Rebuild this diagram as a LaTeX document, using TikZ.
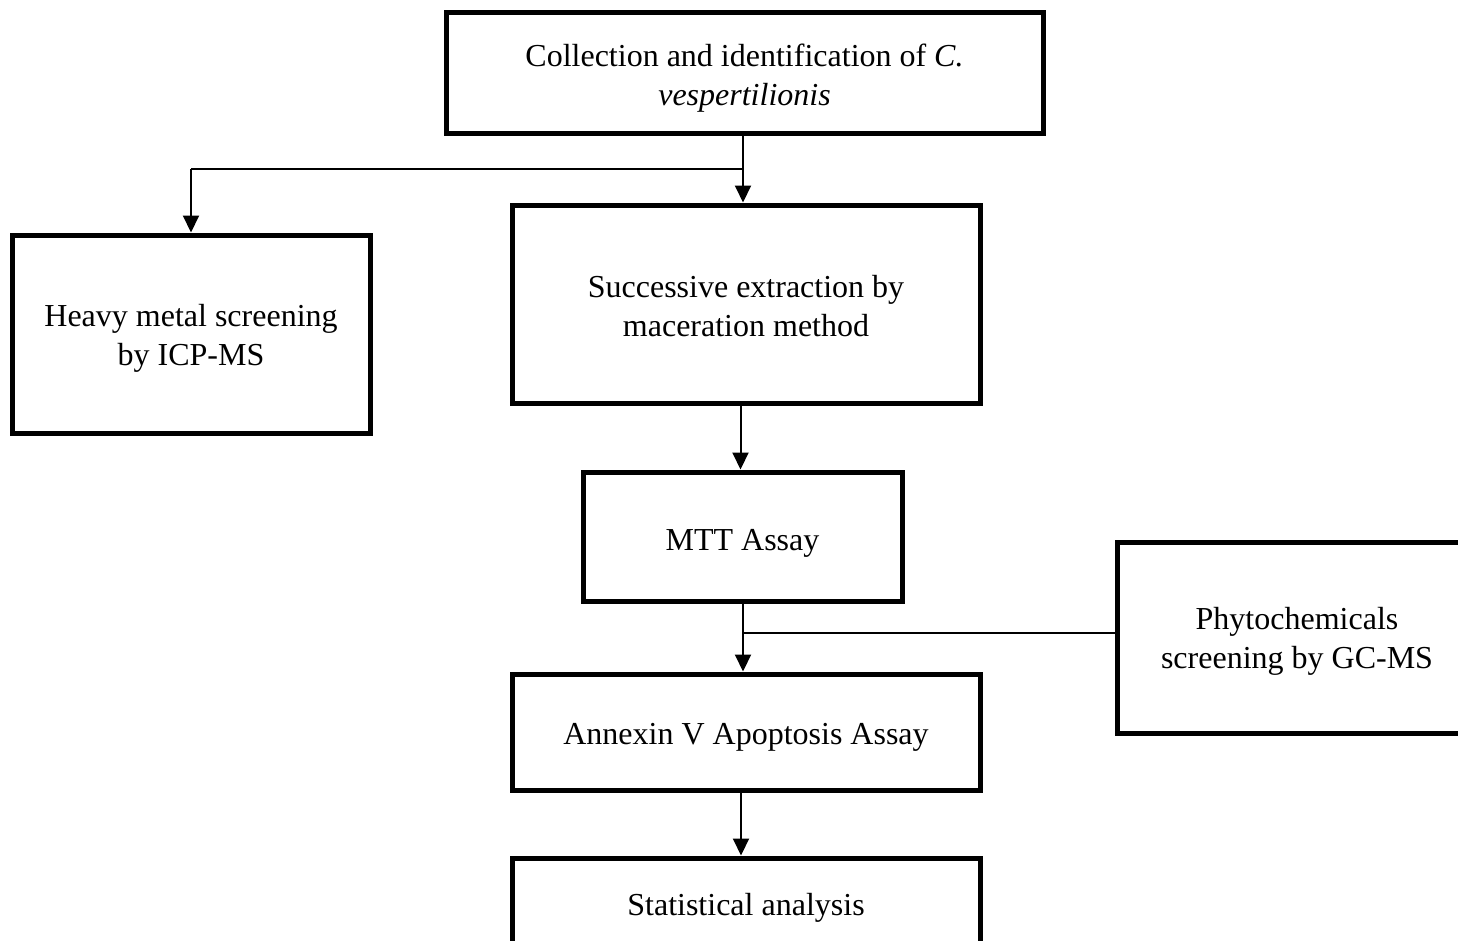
\documentclass[tikz,border=0pt]{standalone}
\usepackage{fontspec}
\setmainfont{Liberation Serif}
\usetikzlibrary{arrows.meta}
\begin{document}
\begin{tikzpicture}[x=1pt,y=-1pt,
  box/.style={draw,line width=5pt,rectangle,inner sep=0pt},
  txt/.style={inner sep=0pt,align=center,font=\fontsize{32}{39}\selectfont},
  arr/.style={line width=2pt,-{Triangle[length=17pt,width=16pt]}},
  thinline/.style={line width=1.3pt}]
\useasboundingbox (0,0) rectangle (1458,940);
\clip (0,0) rectangle (1458,940);
\node[box,minimum width=597pt,minimum height=121pt] (coll) at (744.5,72.5) {};
\node[txt] (coll-t) at (744.5,78) {Collection and identification of \textit{C.}\\\textit{vespertilionis}};
\node[box,minimum width=358pt,minimum height=198pt] (heavy) at (191,334) {};
\node[txt] (heavy-t) at (191,338) {Heavy metal screening\\by ICP-MS};
\node[box,minimum width=468pt,minimum height=198pt] (succ) at (746,304) {};
\node[txt] (succ-t) at (746,306) {Successive extraction by\\maceration method};
\node[box,minimum width=319pt,minimum height=129pt] (mtt) at (742.5,536.5) {};
\node[txt] (mtt-t) at (742.5,543) {MTT Assay};
\node[box,minimum width=360pt,minimum height=191pt] (phyto) at (1297,637.5) {};
\node[txt] (phyto-t) at (1297,641) {Phytochemicals\\screening by GC-MS};
\node[box,minimum width=468pt,minimum height=116pt] (annex) at (746,732) {};
\node[txt] (annex-t) at (746,737) {Annexin V Apoptosis Assay};
\node[box,minimum width=468pt,minimum height=94pt] (stat) at (746,905) {};
\node[txt] (stat-t) at (746,908) {Statistical analysis};
\coordinate (j1) at (743,169);
\coordinate (j2) at (743,633);
\coordinate (x3) at (740.5,0);
\coordinate (x4) at (741,0);
\draw[arr] (j1 |- coll.south) -- (j1 |- succ.north);
\draw[thinline] (j1) -- (j1 -| heavy.north);
\draw[arr] (j1 -| heavy.north) -- (heavy.north);
\draw[arr] (x3 |- succ.south) -- (x3 |- mtt.north);
\draw[arr] (j2 |- mtt.south) -- (j2 |- annex.north);
\draw[thinline] (j2) -- (j2 -| phyto.west);
\draw[arr] (x4 |- annex.south) -- (x4 |- stat.north);
\end{tikzpicture}
\end{document}
